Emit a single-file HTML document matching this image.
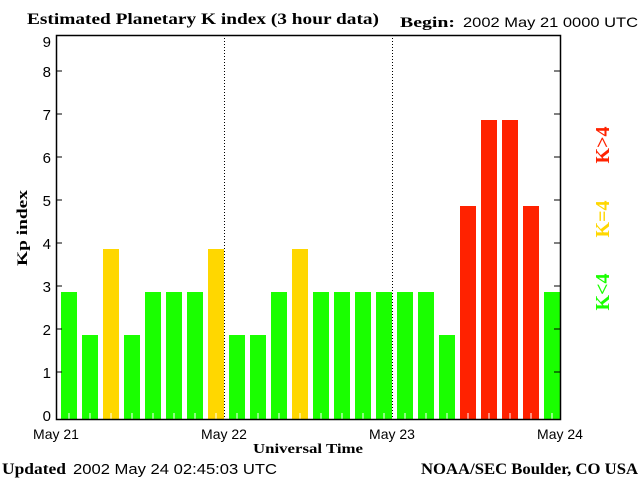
<!DOCTYPE html>
<html><head><meta charset="utf-8"><style>
body{margin:0;background:#fff;width:640px;height:480px;overflow:hidden}
svg text{font-family:"Liberation Sans",sans-serif}
.serif{font-family:"Liberation Serif",serif!important;font-weight:bold}
</style></head><body>
<svg id="c" width="640" height="480">
<text class="serif" x="27" y="24" font-size="16" textLength="352" lengthAdjust="spacingAndGlyphs">Estimated Planetary K index (3 hour data)</text>
<text class="serif" x="400" y="27" font-size="15" textLength="55" lengthAdjust="spacingAndGlyphs">Begin:</text>
<text x="463" y="27" font-size="14" textLength="175" lengthAdjust="spacingAndGlyphs">2002 May 21 0000 UTC</text>
<text class="serif" x="27" y="228" font-size="15" transform="rotate(-90 27 228)" text-anchor="middle" textLength="76" lengthAdjust="spacingAndGlyphs">Kp index</text>
<text class="serif" x="253" y="453" font-size="14" textLength="110" lengthAdjust="spacingAndGlyphs">Universal Time</text>
<text class="serif" x="2" y="474" font-size="16" textLength="64" lengthAdjust="spacingAndGlyphs">Updated</text>
<text x="73" y="474" font-size="15" textLength="204" lengthAdjust="spacingAndGlyphs">2002 May 24 02:45:03 UTC</text>
<text class="serif" x="421" y="474" font-size="16" textLength="217" lengthAdjust="spacingAndGlyphs">NOAA/SEC Boulder, CO USA</text>
<text class="serif" x="609" y="292" font-size="20" fill="#1aff00" transform="rotate(-90 609 292)" text-anchor="middle">K&lt;4</text>
<text class="serif" x="609" y="219" font-size="20" fill="#ffd700" transform="rotate(-90 609 219)" text-anchor="middle">K=4</text>
<text class="serif" x="609" y="145" font-size="20" fill="#ff2200" transform="rotate(-90 609 145)" text-anchor="middle">K&gt;4</text>
<g id="bars"></g><g id="axes"></g>
</svg>
<script>
const kpValues=[3,2,4,2,3,3,3,4,2,2,3,4,3,3,3,3,3,3,2,5,7,7,5,3];
const yTicks=[0,1,2,3,4,5,6,7,8,9];
const dayLabels=["May 21","May 22","May 23","May 24"];
const NS="http://www.w3.org/2000/svg";
const L=56,R=560,T=35,B=419,Z=421,U=43;
const bw=(R-L)/kpValues.length;
const y=v=>Z-v*U, x=i=>L+i*bw;
function mk(t,a,p){const e=document.createElementNS(NS,t);for(const k in a)e.setAttribute(k,a[k]);p.appendChild(e);return e;}
const bars=document.getElementById('bars'),ax=document.getElementById('axes');
kpValues.forEach((v,i)=>{
 const col=v<4?'#1aff00':v==4?'#ffd700':'#ff2200';
 const r=mk('rect',{x:x(i)+5,y:y(v),width:bw-5,height:B-y(v),fill:col},bars);
 
 
 mk('line',{x1:x(i)+bw/2+2.5,x2:x(i)+bw/2+2.5,y1:B-6,y2:B,stroke:'#fff'},bars);
});
mk('rect',{x:L+0.5,y:T+0.5,width:R-L,height:B-T,fill:'none',stroke:'#000','stroke-width':1.5},ax);
for(let d=1;d<dayLabels.length-1;d++){const xx=L+d*8*bw+0.5;mk('line',{x1:xx,x2:xx,y1:T,y2:B,stroke:'#000','stroke-dasharray':'1,2'},ax);}
yTicks.forEach(t=>{
 const yy=y(t)-6;
 if(t>0&&t<9){mk('line',{x1:L,x2:L+6,y1:yy,y2:yy,stroke:'#000'},ax);mk('line',{x1:R-6,x2:R,y1:yy,y2:yy,stroke:'#000'},ax);}
 const tx=mk('text',{x:L-5,y:Math.max(yy+6,47),'font-size':15,'text-anchor':'end'},ax);tx.textContent=t;
 
 
});
dayLabels.forEach((d,i)=>{
 const tx=mk('text',{x:L+i*8*bw,y:439,'font-size':14,'text-anchor':'middle'},ax);tx.textContent=d;
 
 
});
</script>
</body></html>
